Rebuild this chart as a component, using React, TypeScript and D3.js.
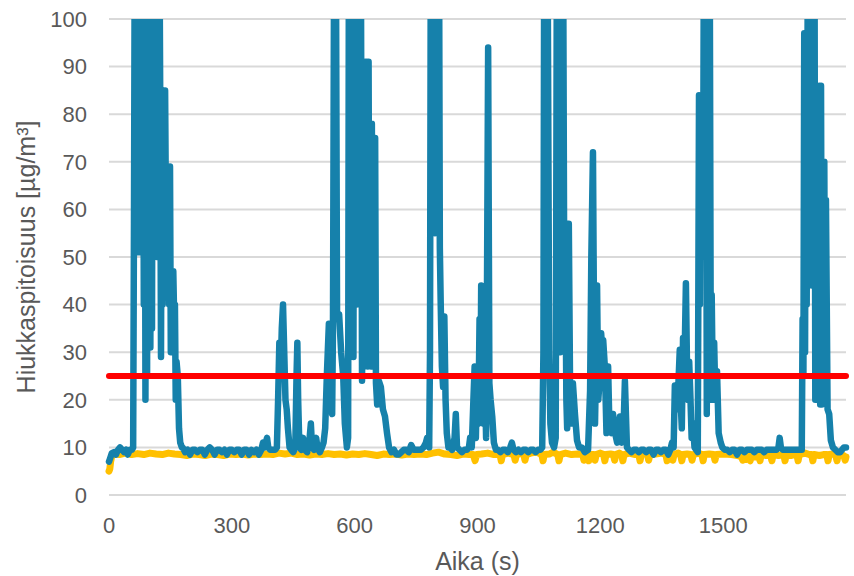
import React, { useEffect } from "react";
import * as d3 from "d3";

const WIDTH = 854;
const HEIGHT = 576;

// axis setup
const xMax = 1800;
const xTicks = [0, 300, 600, 900, 1200, 1500];
const yTicks = [0, 10, 20, 30, 40, 50, 60, 70, 80, 90, 100];
const limitLevel = 25;

// [seconds, µg/m³] – values above 100 are cut off by the plot area
const blueSeries: [number, number][] = [
  [0, 7], [2, 7.5], [7, 8.8], [12, 9], [17, 8.5], [22, 9.5], [27, 10], [32, 9.5], [37, 9], [42, 9.5],
  [46, 8.5], [51, 9.5], [56, 9.5], [59, 10],
  [61, 57], [63, 120], [65, 60], [67, 120], [69, 51], [71, 120], [73, 52], [75, 120], [77, 51], [79, 120],
  [81, 55], [83, 120], [85, 40], [87, 120], [89, 20], [91, 120], [93, 25], [95, 120], [97, 45], [99, 120],
  [101, 31], [103, 120], [105, 35], [107, 120], [109, 50], [111, 120], [113, 52], [115, 120], [117, 50],
  [119, 120], [121, 55], [123, 120], [125, 85], [127, 29], [129, 85], [131, 40], [133, 85], [135, 50],
  [137, 85], [139, 60], [141, 69], [143, 45], [145, 69], [147, 40], [149, 69], [151, 30], [153, 47],
  [155, 35], [157, 47], [159, 38], [161, 40], [163, 20], [165, 28], [168, 25], [171, 14], [174, 11],
  [178, 10],
  [180, 10], [186, 9], [192, 9.5], [198, 8.5], [204, 9.5], [210, 9.5], [216, 9], [222, 9.5], [228, 9.5],
  [234, 8.5], [240, 9.5], [246, 10], [252, 9.5], [258, 8.5], [264, 9.5], [270, 9.5], [276, 9], [282, 9.5],
  [288, 8.5], [294, 9.5], [300, 9.5], [306, 9], [312, 9.5], [318, 9.5], [324, 8.5], [330, 9.5], [336, 9.5],
  [342, 8.5], [348, 9.5], [354, 9], [360, 9.5], [366, 8.5], [372, 9.5], [376, 11], [380, 10], [383, 11],
  [386, 12], [389, 10], [394, 9.5], [400, 9.5], [406, 9.5], [410, 10],
  [413, 20], [416, 32], [419, 25], [422, 35], [425, 40], [428, 30], [431, 20], [434, 18], [437, 14],
  [441, 10], [445, 9.5], [450, 9], [455, 10], [458, 25], [460, 32], [462, 20], [465, 10], [470, 9.5],
  [474, 12], [478, 9.5], [484, 9], [490, 12], [493, 15], [496, 10], [501, 9.5], [506, 12], [509, 10],
  [515, 9], [520, 10], [524, 11], [528, 14], [532, 25], [537, 36], [540, 20], [545, 17], [547, 35],
  [550, 120], [554, 120], [557, 37], [562, 38], [567, 30], [572, 25], [576, 15], [581, 10], [584, 12],
  [586, 120], [589, 60], [591, 120], [593, 40], [595, 120], [597, 29], [599, 120], [601, 50], [603, 120],
  [605, 40], [607, 120], [609, 60], [611, 120], [613, 50], [615, 120], [618, 24], [620, 60], [622, 91],
  [624, 30], [626, 91], [628, 60], [630, 91], [632, 27], [634, 91], [636, 30], [638, 78], [640, 27],
  [642, 78], [644, 27], [646, 75], [648, 40], [650, 75], [652, 23.5], [655, 19], [659, 24], [664, 22.7],
  [669, 18], [674, 16.5], [679, 13], [684, 10],
  [690, 9], [696, 9.5], [702, 8.5], [708, 8.5], [714, 9], [720, 9.5], [726, 9.5], [732, 9], [738, 10.5],
  [744, 9.5], [750, 9.5], [756, 9.5], [762, 9.5], [768, 10], [774, 11], [777, 12], [780, 11],
  [782, 10], [784, 30], [786, 120], [788, 60], [790, 120], [792, 70], [794, 120], [796, 55], [798, 120],
  [800, 65], [802, 120], [804, 55], [806, 120], [808, 52], [810, 41], [813, 27], [816, 22.7], [819, 37.5],
  [822, 20], [825, 13], [829, 10], [833, 10], [838, 9.5], [844, 12], [847, 17], [850, 10], [856, 9.5],
  [862, 9], [868, 9.5], [874, 9.5], [879, 10], [882, 12], [886, 10], [890, 20], [893, 27], [896, 12],
  [899, 25], [902, 15], [905, 37], [907, 18], [909, 44], [911, 20], [913, 30], [915, 15], [918, 25],
  [921, 12], [923, 40], [926, 94], [929, 23.5], [932, 20], [936, 16.5], [940, 11], [945, 9.5],
  [950, 9.5], [956, 9], [962, 9.5], [968, 9.5], [974, 9], [980, 10], [984, 11], [988, 9.5], [994, 9],
  [1000, 9.5], [1006, 9], [1012, 9.5], [1018, 9.5], [1024, 9], [1030, 9.5], [1036, 9.5], [1042, 9],
  [1048, 9.5], [1054, 9.5], [1058, 10],
  [1061, 30], [1063, 120], [1071, 120], [1075, 30], [1078, 15], [1082, 11], [1087, 10], [1091, 12],
  [1094, 120], [1099, 120], [1102, 30], [1105, 120], [1109, 120], [1112, 40], [1114, 57], [1117, 20],
  [1119, 14], [1121, 57], [1123, 57], [1126, 23.5], [1129, 15], [1133, 23.5], [1138, 17], [1143, 11.5],
  [1148, 10], [1155, 10], [1162, 9], [1170, 9.5], [1175, 22], [1178, 50], [1182, 72], [1185, 30],
  [1187, 15], [1190, 30], [1192, 44], [1195, 20], [1199, 25], [1202, 34], [1205, 30], [1207, 32.5],
  [1211, 27], [1215, 13], [1219, 27], [1222, 15], [1224, 17], [1228, 13], [1231, 17], [1236, 13],
  [1241, 11], [1245, 12], [1248, 16.5], [1252, 11], [1256, 12], [1260, 24], [1265, 10],
  [1270, 9.5], [1276, 9], [1282, 9.5], [1288, 9.5], [1294, 9], [1300, 9.5], [1306, 9.5], [1312, 9],
  [1318, 9.5], [1324, 9.5], [1330, 8.5], [1336, 9.5], [1342, 9.5], [1348, 9], [1354, 9.5], [1360, 9.5],
  [1366, 8.5], [1371, 9.5], [1375, 11],
  [1379, 10], [1382, 23], [1386, 18], [1390, 22], [1394, 30.5], [1397, 18], [1399, 14], [1402, 33],
  [1405, 25], [1409, 44.5], [1412, 25], [1414, 20], [1417, 28], [1420, 20.6], [1423, 12], [1426, 15],
  [1430, 10], [1438, 9], [1441, 84], [1443, 40], [1445, 84], [1447, 50], [1449, 84], [1451, 60],
  [1453, 120], [1456, 50], [1458, 120], [1460, 17], [1462, 120], [1465, 40], [1467, 120], [1470, 20],
  [1472, 42], [1475, 20], [1478, 32], [1481, 20], [1485, 26], [1489, 13], [1494, 11], [1498, 10],
  [1504, 9.5], [1510, 9.5], [1516, 9], [1522, 9.5], [1528, 9.5], [1534, 8.5], [1540, 9.5], [1546, 9.5],
  [1552, 9], [1558, 9.5], [1564, 9.5], [1570, 9.5], [1576, 9], [1582, 9.5], [1588, 9.5], [1594, 9.5],
  [1600, 9], [1606, 9.5], [1612, 9.5], [1618, 9.5], [1624, 9.5], [1630, 9.5], [1635, 10], [1638, 12],
  [1641, 10], [1646, 9.5], [1652, 9.5], [1658, 9.5], [1664, 9.5], [1670, 9.5], [1676, 9.5], [1682, 9.5],
  [1688, 9.5], [1692, 9.5],
  [1694, 37], [1696, 25], [1698, 97], [1700, 30], [1702, 97], [1704, 40], [1707, 120], [1709, 56],
  [1711, 120], [1713, 60], [1715, 120], [1717, 44], [1719, 120], [1721, 50], [1723, 120], [1725, 20],
  [1727, 60], [1729, 20], [1731, 86], [1733, 35], [1735, 86], [1737, 19], [1739, 86], [1741, 19],
  [1743, 70], [1745, 30], [1747, 70], [1749, 25], [1751, 62], [1753, 40], [1755, 18], [1759, 17],
  [1763, 11.5], [1768, 10], [1774, 9.5], [1780, 9], [1786, 9], [1790, 9.5], [1795, 10], [1800, 10],
];

const yellowSeries: [number, number][] = [
  [0, 5], [2, 5.5], [4, 7], [7, 8.3], [12, 8.6], [25, 8.5], [40, 8.8], [55, 8.5], [70, 8.7], [85, 8.5],
  [100, 8.8], [115, 8.6], [130, 8.5], [145, 8.8], [160, 8.6], [175, 8.5], [190, 8.3], [205, 8.6],
  [220, 8.5], [235, 8.3], [250, 8.6], [265, 8.5], [280, 8.3], [295, 8.6], [310, 8.5], [325, 8.6],
  [340, 8.4], [355, 8.6], [370, 8.5], [385, 8.6], [400, 8.5], [415, 8.8], [430, 8.6], [445, 8.8],
  [460, 8.5], [475, 8.6], [490, 8.4], [505, 8.6], [520, 8.5], [535, 8.7], [550, 8.5], [565, 8.6],
  [580, 8.4], [595, 8.6], [610, 8.5], [625, 8.7], [640, 8.5], [655, 8.3], [670, 8.6], [685, 8.5],
  [700, 8.6], [715, 8.4], [730, 8.6], [745, 8.5], [760, 8.6], [775, 8.5], [790, 8.8], [805, 9],
  [820, 8.6], [835, 8.5], [850, 8.3], [865, 8.6], [880, 8.5], [890, 8.5], [894, 7.2], [898, 8.5],
  [910, 8.6], [925, 8.8], [940, 8.5], [955, 8.5], [958, 7.2], [961, 8.5], [975, 8.8], [989, 8.5],
  [992, 7.3], [995, 8.5], [1005, 8.7], [1013, 8.5], [1016, 7.3], [1019, 8.5], [1030, 8.8], [1045, 9],
  [1057, 8.5], [1060, 7.2], [1063, 8.5], [1075, 8.6], [1085, 9], [1096, 8.5], [1099, 7.2], [1102, 8.5],
  [1115, 8.8], [1130, 8.5], [1145, 8.6], [1157, 8.5], [1160, 7.3], [1163, 8.5], [1169, 8.5], [1172, 7.2],
  [1175, 8.5], [1184, 8.5], [1187, 7.3], [1190, 8.5], [1200, 8.8], [1208, 8.5], [1211, 7.2], [1214, 8.5],
  [1225, 8.6], [1232, 8.5], [1235, 7.3], [1238, 8.5], [1246, 8.8], [1252, 8.5], [1255, 7.2], [1258, 8.5],
  [1270, 8.8], [1285, 8.5], [1294, 8.5], [1297, 7.2], [1300, 8.5], [1310, 8.8], [1315, 8.5], [1318, 7.3],
  [1321, 8.5], [1335, 8.6], [1350, 8.8], [1360, 8.5], [1363, 7.2], [1366, 8.5], [1374, 8.5], [1377, 7.3],
  [1380, 8.5], [1390, 8.8], [1396, 8.5], [1399, 7.2], [1402, 8.5], [1412, 8.6], [1421, 8.5], [1424, 7.3],
  [1427, 8.5], [1440, 8.8], [1448, 8.5], [1451, 7.2], [1454, 8.5], [1466, 8.6], [1477, 8.5], [1480, 7.3],
  [1483, 8.5], [1500, 8.6], [1520, 8.5], [1535, 8.3], [1545, 8], [1548, 7.3], [1551, 8.3], [1556, 7.5],
  [1560, 8.3], [1563, 7.5], [1566, 7.2], [1569, 8.3], [1578, 8], [1587, 8.3], [1590, 7.2], [1593, 8.5],
  [1605, 8.3], [1616, 8.3], [1619, 7.2], [1622, 8.5], [1635, 8.3], [1648, 8.5], [1651, 7.2], [1654, 8.5],
  [1665, 8.3], [1674, 8.5], [1680, 8.5], [1683, 7.2], [1686, 8.5], [1700, 8.8], [1710, 8.5], [1716, 8.5],
  [1719, 7.2], [1722, 8.5], [1735, 8.3], [1745, 8.5], [1753, 8.5], [1756, 7.2], [1759, 8.5], [1768, 8.6],
  [1775, 8.3], [1778, 7.2], [1781, 8.5], [1790, 8.5], [1795, 8.2], [1798, 7.3], [1800, 8],
];

const limitSeries: [number, number][] = [
  [0, limitLevel],
  [xMax, limitLevel],
];

const FONT = "'Liberation Sans', Arial, sans-serif";
const TEXT = "#595959";

export default function App() {
  useEffect(() => {
    document.body.style.margin = "0";
  }, []);

  const margin = { top: 19, right: 8, bottom: 81, left: 109 };
  const x = d3
    .scaleLinear()
    .domain([0, xMax])
    .range([margin.left, WIDTH - margin.right]);
  const y = d3
    .scaleLinear()
    .domain([0, 100])
    .range([HEIGHT - margin.bottom, margin.top]);

  const line = d3
    .line<[number, number]>()
    .x((d) => x(d[0]))
    .y((d) => y(d[1]));

  const [x0, x1] = x.range();
  const [yBottom, yTop] = y.range();

  return (
    <svg width={WIDTH} height={HEIGHT} style={{ display: "block", background: "#fff" }}>
      <defs>
        <clipPath id="plot-clip">
          <rect x={x0 - 10} y={yTop} width={x1 - x0 + 20} height={yBottom - yTop + 20} />
        </clipPath>
      </defs>

      {yTicks.map((t) => (
        <line key={`g${t}`} x1={x0} x2={x1} y1={y(t)} y2={y(t)} stroke="#d9d9d9" strokeWidth={2} />
      ))}

      {yTicks.map((t) => (
        <text
          key={`y${t}`}
          x={x0 - 22}
          y={y(t)}
          dy="0.35em"
          textAnchor="end"
          fontFamily={FONT}
          fontSize={22}
          fill={TEXT}
        >
          {t}
        </text>
      ))}

      {xTicks.map((t) => (
        <text
          key={`x${t}`}
          x={x(t)}
          y={yBottom + 30}
          dy="0.35em"
          textAnchor="middle"
          fontFamily={FONT}
          fontSize={22}
          fill={TEXT}
        >
          {t}
        </text>
      ))}

      <g clipPath="url(#plot-clip)" fill="none" strokeLinejoin="round" strokeLinecap="round">
        <path d={line(yellowSeries) ?? ""} stroke="#ffc000" strokeWidth={7} />
        <path d={line(blueSeries) ?? ""} stroke="#1681ab" strokeWidth={6.5} />
      </g>
      <path
        d={line(limitSeries) ?? ""}
        fill="none"
        stroke="#ff0000"
        strokeWidth={6}
        strokeLinecap="round"
      />

      <text
        x={(x0 + x1) / 2}
        y={570}
        textAnchor="middle"
        fontFamily={FONT}
        fontSize={25}
        fill={TEXT}
      >
        Aika (s)
      </text>
      <text
        transform={`translate(35, ${(yTop + yBottom) / 2}) rotate(-90)`}
        textAnchor="middle"
        fontFamily={FONT}
        fontSize={25}
        fill={TEXT}
      >
        Hiukkaspitoisuus [µg/m³]
      </text>
    </svg>
  );
}
